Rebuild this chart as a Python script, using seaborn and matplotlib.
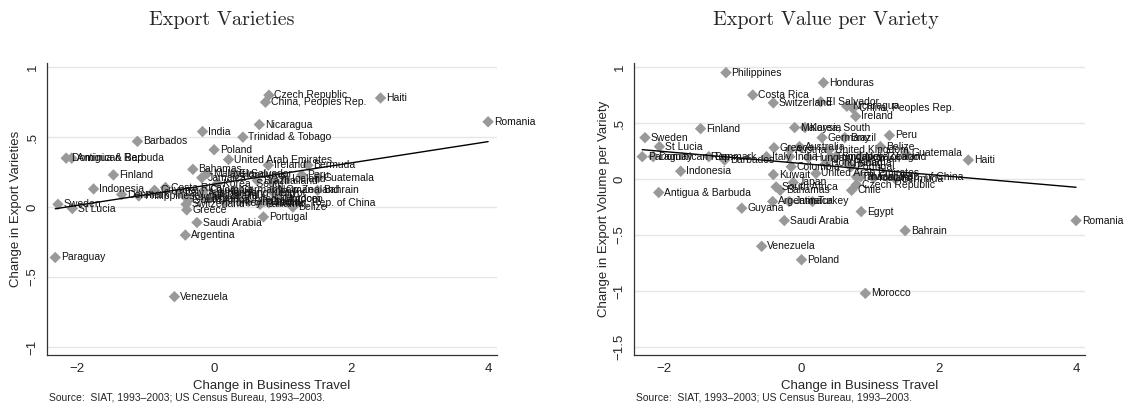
import numpy as np
import pandas as pd
import matplotlib
matplotlib.use("Agg")
import matplotlib.pyplot as plt
import seaborn as sns

# country, change in business travel, change in export varieties, change in export value per variety
countries = ["Sweden", "Paraguay", "Dominican Rep.", "Antigua & Barbuda", "St Lucia",
             "Indonesia", "Finland", "Denmark", "Philippines", "Barbados",
             "Guyana", "Costa Rica", "Venezuela", "Italy", "Argentina",
             "Switzerland", "Greece", "Kuwait", "South Africa", "Bahamas",
             "Saudi Arabia", "Jamaica", "India", "Austria", "Colombia",
             "Japan", "Malaysia", "Australia", "Poland", "Korea, South",
             "Turkey", "United Arab Emirates", "Hungary", "El Salvador", "Germany",
             "Honduras", "Hong Kong", "United Kingdom", "Trinidad & Tobago", "Singapore",
             "Brazil", "Nicaragua", "Panama", "Portugal", "China, Peoples Rep.",
             "Chile", "Taiwan, Rep. of China", "Czech Republic", "Ireland", "Thailand",
             "Egypt", "Morocco", "Oman", "New Zealand", "Iceland",
             "Belize", "Bermuda", "Peru", "Bahrain", "Guatemala",
             "Haiti", "Romania"]
travel = [-2.28, -2.32, -2.16, -2.08, -2.07,
          -1.76, -1.47, -1.35, -1.10, -1.12,
          -0.87, -0.71, -0.58, -0.51, -0.42,
          -0.41, -0.40, -0.41, -0.37, -0.31,
          -0.25, -0.18, -0.17, -0.17, -0.15,
          -0.12, -0.10, -0.03, 0.00, 0.05,
          0.16, 0.21, 0.10, 0.28, 0.30,
          0.32, 0.35, 0.40, 0.42, 0.50,
          0.63, 0.66, 0.67, 0.72, 0.75,
          0.73, 0.80, 0.80, 0.79, 0.86,
          0.87, 0.93, 0.96, 0.85, 1.05,
          1.15, 1.37, 1.28, 1.51, 1.52,
          2.43, 4.00]
varieties = [0.02, -0.36, 0.35, 0.35, -0.01,
             0.13, 0.23, 0.09, 0.08, 0.47,
             0.12, 0.14, -0.64, 0.10, -0.20,
             0.02, -0.02, 0.07, 0.05, 0.27,
             -0.11, 0.21, 0.54, 0.10, 0.12,
             0.06, 0.24, 0.08, 0.41, 0.17,
             0.03, 0.34, 0.10, 0.24, 0.12,
             0.23, 0.10, 0.06, 0.50, 0.04,
             0.19, 0.59, 0.02, -0.07, 0.75,
             0.04, 0.03, 0.80, 0.30, 0.19,
             0.10, 0.06, 0.12, 0.12, 0.20,
             0.00, 0.30, 0.23, 0.12, 0.21,
             0.78, 0.61]
value_per_variety = [0.37, 0.20, 0.20, -0.12, 0.29,
                     0.07, 0.45, 0.20, 0.95, 0.17,
                     -0.26, 0.75, -0.60, 0.20, -0.20,
                     0.68, 0.28, 0.04, -0.07, -0.10,
                     -0.37, -0.20, 0.20, 0.26, 0.11,
                     -0.03, 0.46, 0.29, -0.72, 0.46,
                     -0.20, 0.05, 0.19, 0.69, 0.37,
                     0.86, 0.14, 0.26, 0.20, 0.20,
                     0.37, 0.65, 0.14, 0.11, 0.63,
                     -0.10, 0.02, -0.05, 0.56, 0.02,
                     -0.29, -1.02, 0.18, 0.20, 0.01,
                     0.29, 0.00, 0.39, -0.46, 0.23,
                     0.17, -0.37]

xticks = [-2, 0, 2, 4]
xtick_labels = ["\u22122", "0", "2", "4"]
yticks_left = [-1, -0.5, 0, 0.5, 1]
ytick_labels_left = ["\u22121", "\u2212.5", "0", ".5", "1"]
yticks_right = [-1.5, -1, -0.5, 0, 0.5, 1]
ytick_labels_right = ["\u22121.5", "\u22121", "\u2212.5", "0", ".5", "1"]

df = pd.DataFrame({"country": countries, "travel": travel,
                   "varieties": varieties, "value": value_per_variety})

sns.set_style("white")
plt.rcParams['font.family'] = ['Liberation Sans', 'DejaVu Sans']

marker_gray = "#999999"
fig = plt.figure(figsize=(11.24, 4.08), dpi=100)
ax1 = fig.add_axes([47/1124, 1-355/408, 450/1124, 292/408])
ax2 = fig.add_axes([634/1124, 1-355/408, 451/1124, 292/408])

panels = [(ax1, "varieties", (-1.057, 1.03), yticks_left, ytick_labels_left,
           "Change in Export Varieties", "Export Varieties", 222),
          (ax2, "value", (-1.57, 1.036), yticks_right, ytick_labels_right,
           "Change in Export Volume per Variety", "Export Value per Variety", 826)]

for ax, col, ylim, yt, ytl, ylab, title, tx in panels:
    for y in yt:
        ax.axhline(y, color="#e6e6e6", lw=1, zorder=0)
    sns.scatterplot(data=df, x="travel", y=col, ax=ax, marker="D", s=34,
                    color=marker_gray, edgecolor="none", zorder=3)
    sns.regplot(data=df, x="travel", y=col, ax=ax, scatter=False, ci=None,
                color="black", line_kws={"lw": 1.0, "zorder": 4})
    for _, r in df.iterrows():
        ax.annotate(r["country"], (r["travel"], r[col]), xytext=(4, 0),
                    textcoords="offset points", va="center", ha="left",
                    fontsize=7.5, color="#111111", zorder=5)
    ax.set_xlim(-2.44, 4.13)
    ax.set_ylim(*ylim)
    ax.set_xticks(xticks)
    ax.set_xticklabels(xtick_labels, fontsize=9.5)
    ax.set_yticks(yt)
    ax.set_yticklabels(ytl, fontsize=9.5, rotation=90, va="center")
    ax.tick_params(axis="both", direction="out", length=4, width=0.8,
                   color="#333333", pad=2)
    ax.set_xlabel("Change in Business Travel", fontsize=9.5, labelpad=3)
    ax.set_ylabel(ylab, fontsize=9.5, labelpad=3)
    for s in ["top", "right"]:
        ax.spines[s].set_visible(False)
    for s in ["left", "bottom"]:
        ax.spines[s].set_color("#333333")
        ax.spines[s].set_linewidth(0.9)
    ax.set_facecolor("white")
    fig.text(tx/1124, 1-20/408, title, ha="center", va="center",
             fontsize=14.5, family="cmr10")
    left = ax.get_position().x0
    fig.text(left + 2/1124, 1-398/408,
             "Source:  SIAT, 1993\u20132003; US Census Bureau, 1993\u20132003.",
             fontsize=7.5, ha="left", va="center")

fig.savefig("out.png", dpi=100)
